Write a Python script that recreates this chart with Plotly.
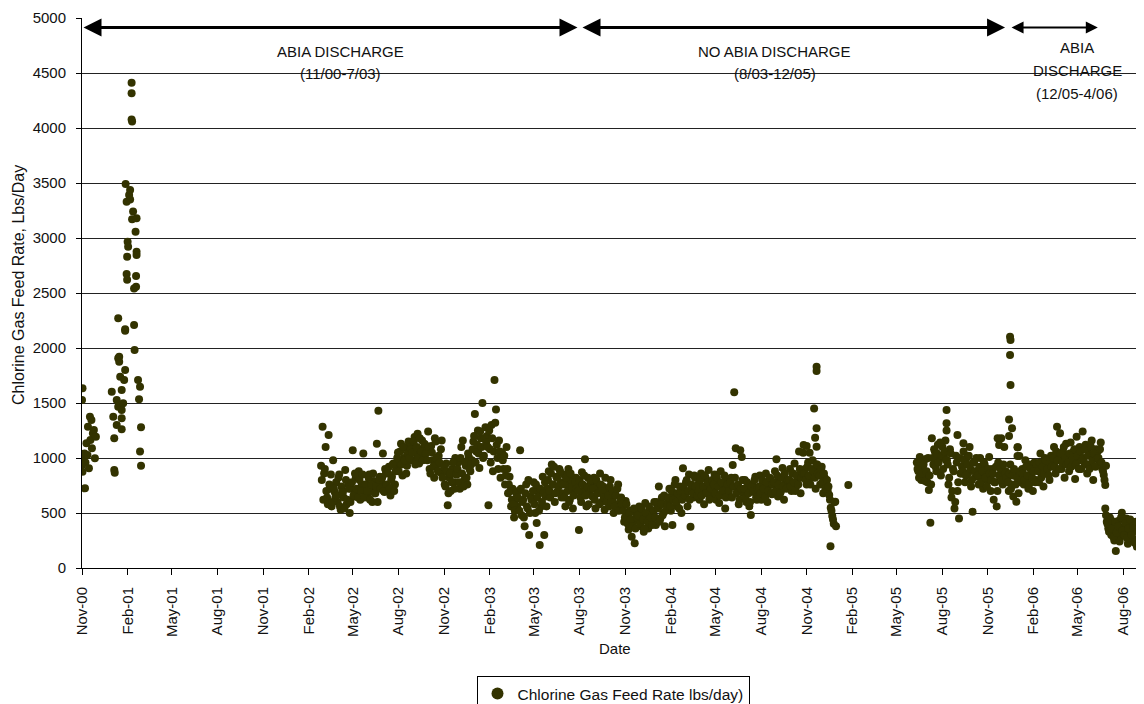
import numpy as np
import pandas as pd
import plotly.graph_objects as go

# ---------------- data ----------------
# Period 1: Nov 2000 - Feb 2001 (individual readings)
seg1_dates = [
    "2000-11-01", "2000-11-01", "2000-11-02", "2000-11-02", "2000-11-04", "2000-11-06",
    "2000-11-07", "2000-11-08", "2000-11-10", "2000-11-12", "2000-11-13", "2000-11-15",
    "2000-11-17", "2000-11-18", "2000-11-20", "2000-11-21", "2000-11-23", "2000-11-25",
    "2000-11-27", "2000-11-29",
    "2000-12-31", "2001-01-03", "2001-01-05", "2001-01-05", "2001-01-06", "2001-01-10",
    "2001-01-10", "2001-01-13", "2001-01-13", "2001-01-13", "2001-01-15", "2001-01-15",
    "2001-01-17", "2001-01-20", "2001-01-20", "2001-01-20", "2001-01-20", "2001-01-23",
    "2001-01-25", "2001-01-27", "2001-01-27", "2001-01-27",
    "2001-01-28", "2001-01-30", "2001-01-30", "2001-01-31", "2001-01-31", "2001-02-01",
    "2001-02-02", "2001-02-04", "2001-02-06", "2001-02-06", "2001-02-09", "2001-02-09",
    "2001-02-09", "2001-02-10", "2001-02-10", "2001-02-12", "2001-02-14", "2001-02-14",
    "2001-02-15", "2001-02-17", "2001-02-18", "2001-02-18", "2001-02-19", "2001-02-19",
    "2001-02-19", "2001-02-22", "2001-02-24", "2001-02-26", "2001-02-26", "2001-02-28",
    "2001-02-28",
]
seg1_values = [
    1527, 936, 1633, 876, 982, 1042,
    724, 958, 1133, 1027, 1285, 906,
    1376, 1164, 1345, 1088, 1224, 1254,
    997, 1194,
    1603, 1376, 1179, 891, 867, 1527,
    1300, 2270, 1906, 1467, 1875, 1921,
    1739, 1618, 1436, 1361, 1261, 1497,
    1709, 1800, 2157, 2170,
    3490, 3330, 2672, 2830, 2620, 2966,
    2920, 3390, 3436, 3350, 4412, 4315,
    4078, 4060, 3170, 3240, 2540, 2209,
    1982, 3057, 2655, 2557, 3180, 2875,
    2845, 1709, 1533, 1648, 1058, 1279,
    930,
]

# Period 2: late Feb 2002 - Dec 2004, readings about every 3 days (one row ~ one month)
seg2_start = "2002-02-26"
seg2_step_days = 3.04
seg2_values = [
    930, 1285, 860, 1100, 640, 1210, 720, 560, 980, 690,
    780, 600, 850, 530, 700, 640, 890, 580, 760, 500,
    720, 1070, 650, 820, 700, 880, 620, 760, 1040, 690,
    760, 640, 850, 700, 600, 790, 680, 1130, 1430, 830,
    780, 1040, 690, 860, 740, 920, 660, 830, 950, 760,
    900, 1050, 960, 1130, 840, 1000, 1090, 930, 1150, 980,
    1100, 980, 1190, 1040, 1220, 950, 1080, 1160, 1010, 1120,
    1060, 1240, 900, 1110, 980, 820, 1150, 940, 1020, 870,
    1160, 870, 760, 950, 570, 820, 700, 900, 780, 1000,
    850, 960, 720, 1100, 1160, 800, 930, 760, 1010, 880,
    980, 1150, 1400, 1060, 1250, 910, 1180, 1500, 1020, 1280,
    1200, 570, 1080, 1300, 880, 1710, 1440, 1000, 1160, 820,
    1050, 900, 760, 1100, 680, 830, 560, 720, 460, 620,
    560, 700, 1070, 480, 620, 380, 760, 540, 300, 650,
    620, 780, 500, 410, 700, 210, 560, 830, 300, 650,
    720, 880, 640, 940, 760, 600, 830, 700, 900, 780,
    680, 850, 560, 760, 900, 620, 800, 540, 700, 820,
    760, 345, 640, 870, 700, 988, 560, 820, 690, 780,
    650, 820, 540, 760, 700, 860, 600, 740, 530, 680,
    720, 560, 800, 620, 500, 690, 580, 760, 530, 640,
    560, 420, 610, 470, 350, 520, 285, 440, 224, 500,
    430, 560, 380, 500, 330, 590, 450, 360, 520, 410,
    480, 600, 390, 560, 740, 450, 640, 500, 380, 580,
    600, 720, 520, 390, 680, 800, 560, 650, 740, 500,
    906, 680, 780, 560, 850, 376, 720, 640, 820, 700,
    760, 620, 860, 700, 580, 820, 740, 890, 660, 770,
    700, 850, 620, 780, 590, 880, 720, 660, 540, 800,
    760, 650, 820, 936, 1597, 1088, 700, 580, 1070, 1010,
    680, 800, 600, 740, 560, 482, 760, 690, 830, 620,
    720, 840, 620, 780, 690, 860, 600, 750, 810, 670,
    760, 880, 988, 650, 820, 700, 910, 620, 790, 740,
    780, 900, 700, 860, 950, 740, 820, 1058, 680, 880,
    1118, 900, 760, 960, 1048, 820, 980, 880, 720, 940,
    880, 760, 920, 680, 820, 760, 700, 663, 548, 472, 403, 603,
]
# second reading set of period 2, taken between the readings above
seg2b_start = "2002-02-27 12:00"
seg2b_values = [
    800, 620, 900, 700, 580, 760, 850, 600, 720, 640,
    660, 820, 560, 740, 690, 540, 800, 620, 720, 600,
    780, 660, 860, 720, 640, 800, 700, 850, 640, 760,
    700, 820, 620, 760, 860, 680, 740, 600, 800, 720,
    820, 700, 900, 760, 860, 720, 800, 940, 700, 880,
    1000, 880, 1060, 940, 1100, 980, 860, 1040, 1000, 1080,
    1050, 1150, 940, 1100, 1010, 1180, 1060, 980, 1130, 1040,
    980, 1100, 860, 1050, 920, 1180, 1000, 880, 960, 1080,
    820, 920, 740, 880, 680, 860, 780, 960, 720, 850,
    900, 780, 1000, 860, 740, 960, 820, 1040, 900, 940,
    1080, 1200, 960, 1120, 1040, 1240, 1100, 1000, 1180, 1140,
    1100, 1250, 960, 1180, 1060, 1320, 1120, 900, 1060, 1000,
    980, 1020, 840, 900, 760, 700, 620, 580, 520, 680,
    640, 520, 720, 600, 460, 680, 560, 800, 500, 620,
    700, 580, 760, 640, 520, 720, 600, 680, 780, 560,
    800, 700, 860, 760, 920, 680, 820, 740, 880, 640,
    760, 640, 820, 700, 600, 860, 740, 660, 780, 720,
    700, 800, 600, 760, 840, 660, 740, 580, 800, 720,
    720, 620, 800, 680, 580, 760, 700, 640, 820, 600,
    660, 740, 600, 700, 560, 660, 720, 520, 620, 580,
    520, 460, 580, 400, 500, 440, 380, 540, 360, 460,
    480, 400, 540, 440, 360, 500, 420, 560, 460, 390,
    520, 460, 600, 540, 420, 580, 480, 660, 520, 560,
    640, 560, 700, 620, 760, 600, 680, 540, 700, 620,
    740, 660, 800, 700, 620, 760, 680, 840, 740, 660,
    700, 800, 660, 740, 840, 680, 780, 620, 720, 800,
    760, 680, 820, 740, 660, 780, 700, 840, 640, 760,
    700, 780, 640, 740, 820, 680, 760, 620, 720, 800,
    720, 640, 780, 680, 600, 740, 700, 800, 640, 720,
    740, 680, 800, 720, 640, 780, 700, 820, 680, 760,
    780, 700, 840, 760, 680, 820, 740, 860, 720, 800,
    800, 740, 860, 780, 700, 840, 760, 900, 820, 860,
    860, 800, 920, 840, 760, 900, 880, 820, 940, 860,
    840, 900, 780, 860, 720, 800, 740, 620, 520, 440, 600, 380,
]

# Period 3: mid Jun 2005 - Jun 2006
seg3_start = "2005-06-11"
seg3_step_days = 3.04
seg3_values = [
    960, 880, 1010, 800, 920, 850, 990, 780, 710, 412,
    1180, 940, 1060, 880, 1120, 990, 840, 1100, 1020, 1160,
    980, 760, 1080, 640, 900, 540, 1020, 700, 450, 860,
    920, 1060, 780, 1000, 860, 1100, 740, 512, 960, 830,
    880, 760, 1000, 820, 720, 940, 860, 790, 1010, 700,
    900, 620, 780, 560, 960, 840, 1180, 760, 1100, 880,
    820, 700, 940, 760, 650, 880, 603, 1097, 1018, 780,
    900, 760, 980, 820, 720, 940, 860, 700, 960, 800,
    920, 780, 1040, 860, 740, 1000, 880, 950, 800, 1020,
    960, 1100, 860, 1285, 1020, 1224, 900, 1060, 820, 1130,
    1000, 880, 1140, 940, 1060, 810, 1194, 980, 1100, 900,
    1240, 960, 1120, 860, 1040, 940, 1160, 800, 1000, 1080,
    1060, 960, 1140, 900, 845, 755,
]
seg3b_start = "2005-06-12 12:00"
seg3b_values = [
    900, 820, 960, 860, 940, 790, 880, 1000, 840, 760,
    1000, 1080, 920, 1040, 960, 1140, 1020, 900, 1060, 980,
    940, 820, 1040, 700, 880, 600, 960, 780, 1000, 860,
    880, 980, 840, 940, 1020, 900, 800, 960, 880, 1000,
    840, 920, 780, 880, 960, 820, 740, 900, 860, 800,
    860, 780, 920, 700, 840, 900, 800, 940, 860, 820,
    780, 860, 720, 840, 900, 760, 820, 680, 880, 800,
    860, 800, 920, 840, 760, 900, 820, 880, 780, 940,
    880, 960, 820, 920, 860, 980, 900, 840, 960, 920,
    1000, 920, 1060, 980, 900, 1040, 960, 1100, 1000, 940,
    960, 1040, 920, 1000, 1080, 940, 1020, 900, 1060, 980,
    1000, 1080, 940, 1020, 900, 1100, 980, 1040, 920, 1000,
    1000, 1080, 960, 880, 800, 930,
]

# Period 4: late Jun 2006 onward
seg4_start = "2006-06-26"
seg4_step_days = 3.04
seg4_values = [
    542, 420, 360, 460, 300, 390, 250, 155, 340, 430, 280, 503, 370,
    310, 450, 220, 380, 330, 400, 260, 350, 194, 420, 300, 360, 103,
]
seg4b_start = "2006-06-27 12:00"
seg4b_values = [
    480, 400, 330, 440, 360, 280, 420, 320, 380, 240, 460, 340, 300,
    410, 270, 360, 440, 300, 380, 230, 420, 330, 280, 400, 340, 150,
]

# Isolated high / low readings
extra_dates = [
    "2004-10-25", "2004-11-01", "2004-11-16", "2004-11-18", "2004-11-21", "2004-11-21",
    "2004-11-21", "2004-11-21", "2004-12-19", "2005-01-24",
    "2005-08-10", "2005-08-10", "2005-08-10", "2005-09-01", "2005-09-13", "2005-11-21",
    "2005-11-24", "2005-12-14", "2005-12-14", "2005-12-16", "2005-12-16", "2005-12-17",
    "2005-12-17", "2005-12-20", "2005-12-31", "2005-12-31",
]
extra_values = [
    1048, 1109, 1451, 1185, 1830, 1790,
    1270, 1103, 197, 755,
    1436, 1315, 1250, 1209, 1133, 1179,
    1118, 1351, 1200, 2103, 1936, 2072,
    1663, 1270, 1097, 1018,
]

# axis / annotation text
series_name = "Chlorine Gas Feed Rate lbs/day)"
y_title = "Chlorine Gas Feed Rate, Lbs/Day"
x_title = "Date"
# discharge periods: arrow start, arrow end
period_starts = ["2000-11-01", "2003-08-04", "2005-12-16"]
period_ends = ["2003-07-28", "2005-12-06", "2006-06-11"]
arrow_level = 4913
# period labels: one entry per text line
label_lines = ["ABIA DISCHARGE", "(11/00-7/03)",
               "NO ABIA DISCHARGE", "(8/03-12/05)",
               "ABIA", "DISCHARGE", "(12/05-4/06)"]
label_x = ["2002-04-07", "2002-04-07",
           "2004-08-29", "2004-08-29",
           "2006-04-30", "2006-04-30", "2006-04-30"]
label_y = [4691, 4500, 4691, 4500, 4736, 4527, 4318]


def spaced(start, step, n):
    return pd.Timestamp(start) + pd.to_timedelta(np.arange(n) * step, unit="D")


x_all = (
    list(pd.to_datetime(seg1_dates))
    + list(spaced(seg2_start, seg2_step_days, len(seg2_values)))
    + list(spaced(seg2b_start, seg2_step_days, len(seg2b_values)))
    + list(spaced(seg3_start, seg3_step_days, len(seg3_values)))
    + list(spaced(seg3b_start, seg3_step_days, len(seg3b_values)))
    + list(spaced(seg4_start, seg4_step_days, len(seg4_values)))
    + list(spaced(seg4b_start, seg4_step_days, len(seg4b_values)))
    + list(pd.to_datetime(extra_dates))
)
y_all = (seg1_values + seg2_values + seg2b_values + seg3_values + seg3b_values
         + seg4_values + seg4b_values + extra_values)

FONT = "Liberation Sans, Arial, sans-serif"
MARK = "#333300"
TXT = "#111111"

fig = go.Figure()
fig.add_trace(go.Scatter(
    x=x_all, y=y_all, mode="markers", name=series_name,
    marker=dict(color=MARK, size=8, line=dict(width=0)),
    showlegend=True,
))

annotations = []
for i, (s, e) in enumerate(zip(period_starts, period_ends)):
    annotations.append(dict(
        x=e, y=arrow_level, ax=s, ay=arrow_level,
        xref="x", yref="y", axref="x", ayref="y",
        text="", showarrow=True, arrowside="end+start",
        arrowhead=2, startarrowhead=2, arrowsize=1.2, startarrowsize=1.2,
        arrowwidth=3 if i < 2 else 2, arrowcolor="black",
    ))
for t, lx, ly in zip(label_lines, label_x, label_y):
    annotations.append(dict(
        x=lx, y=ly, xref="x", yref="y", text=t, showarrow=False,
        xanchor="center", yanchor="middle",
        font=dict(family=FONT, size=15, color=TXT), align="center",
    ))

annotations.append(dict(
    x=-0.0603, y=0.5145, xref="paper", yref="paper", text=y_title, textangle=-90,
    xanchor="center", yanchor="middle",
    showarrow=False, font=dict(family=FONT, size=16, color=TXT),
))
annotations.append(dict(
    x=0.502, y=-0.1455, xref="paper", yref="paper", text=x_title,
    xanchor="center", yanchor="middle",
    showarrow=False, font=dict(family=FONT, size=15, color=TXT),
))

# the page adds an 8 px body margin, so the figure is 8 px smaller and offsets reduced
fig.update_layout(
    width=1136, height=696,
    margin=dict(l=74, r=0, t=10, b=136, autoexpand=False),
    paper_bgcolor="white", plot_bgcolor="white",
    font=dict(family=FONT, size=15, color=TXT),
    annotations=annotations,
    legend=dict(
        x=0.5, xanchor="center", y=-0.1964, yanchor="top",
        bordercolor="black", borderwidth=1, bgcolor="white",
        font=dict(family=FONT, size=15.5, color=TXT),
        itemsizing="constant",
    ),
    xaxis=dict(
        type="date", range=["2000-11-01", "2006-09-12 02:00"], automargin=False,
        tick0="2000-11-01", dtick="M3", tickformat="%b-%y", tickangle=-90,
        ticks="outside", ticklen=6, tickcolor="black", ticklabelstandoff=6,
        showline=True, linecolor="black", linewidth=1,
        showgrid=False, zeroline=False,
        tickfont=dict(family=FONT, size=15, color=TXT),
    ),
    yaxis=dict(
        range=[0, 5000], dtick=500, tickformat="d", automargin=False,
        ticks="outside", ticklen=5, tickcolor="black", ticklabelstandoff=7,
        showline=True, linecolor="black", linewidth=1,
        showgrid=True, gridcolor="#222222", gridwidth=1, zeroline=False,
        tickfont=dict(family=FONT, size=15, color=TXT),
    ),
)

fig.write_html("out.html")
